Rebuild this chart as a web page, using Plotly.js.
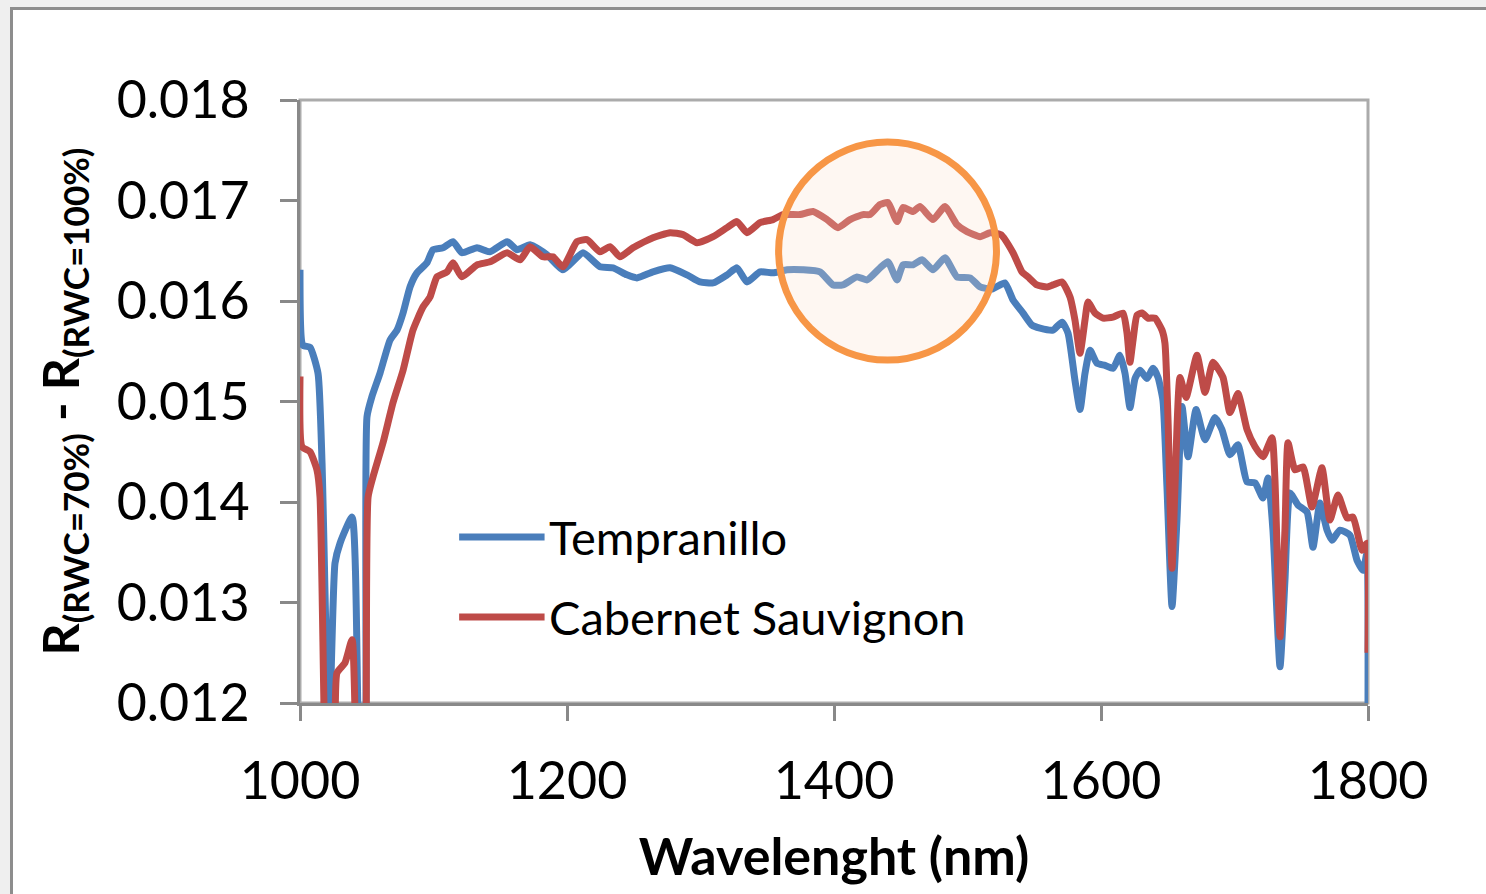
<!DOCTYPE html>
<html>
<head>
<meta charset="utf-8">
<script src="https://cdn.plot.ly/plotly-3.0.1.min.js"></script>
<style>
  html, body { margin: 0; padding: 0; }
  body { width: 1486px; height: 894px; overflow: hidden; position: relative; background: #efefef; }
  #frame { position: absolute; left: 10px; top: 7px; width: 1500px; height: 900px; border-left: 3px solid #8d8d8d; border-top: 3px solid #8d8d8d; background: #ffffff; }
  #chart { position: absolute; left: 0; top: 0; width: 1486px; height: 894px; }
</style>
</head>
<body>
<div id="frame"></div>
<div id="chart"></div>
<script>
// Tempranillo (blue)
var tempWl = [1000,1002.2,1007.5,1013.5,1016.5,1021.7,1026.2,1030,1039,1043.4,1046.4,1049.4,1050.2,1053.9,1059.9,1067.4,1072.7,1077.2,1082.4,1087.6,1095.1,1099.6,1107.1,1114.6,1121.3,1132.6,1142.3,1155.1,1162.5,1172.3,1185,1197,1212,1224.7,1234.5,1244.9,1252.4,1264.4,1277.2,1289.9,1299.6,1309.4,1319.9,1327.3,1334.8,1344.6,1354.3,1364.8,1376.8,1389.5,1399.3,1406.7,1417.2,1424.7,1434.5,1440.4,1447.2,1451.7,1459.2,1465.9,1474.2,1483.1,1492.1,1501.9,1509.4,1518.4,1528,1534.1,1541.6,1548.3,1554.3,1564,1570.8,1575.3,1580.5,1584.3,1588,1591.8,1597,1603,1609,1614.2,1618,1621.7,1625.5,1629.2,1634.5,1639,1642.7,1646.4,1649.4,1653.2,1656.9,1660.7,1665.2,1671.2,1677.9,1685.4,1690.6,1696.6,1702.6,1709.4,1715.4,1721.3,1725.1,1728.8,1734.1,1737.8,1741.6,1747.6,1754.3,1758.8,1764,1769.3,1773,1779,1786.5,1791.8,1796.3,1799.2,1800];
var tempVal = [0.01631,0.01556,0.01554,0.01528,0.01439,0.01163,0.01339,0.01359,0.01385,0.0119,0.0105,0.0118,0.01485,0.01505,0.01528,0.01561,0.01571,0.01588,0.01614,0.01628,0.01638,0.01651,0.01653,0.01659,0.01648,0.01653,0.01649,0.01659,0.01651,0.01656,0.01646,0.01631,0.01648,0.01634,0.01633,0.01626,0.01623,0.01629,0.01633,0.01626,0.01619,0.01618,0.01626,0.01633,0.01619,0.01629,0.01628,0.01631,0.01631,0.01629,0.01616,0.01616,0.01624,0.01621,0.01633,0.01639,0.01621,0.01636,0.01636,0.01641,0.01631,0.01643,0.01624,0.01623,0.01614,0.01612,0.01618,0.01601,0.01588,0.01576,0.01573,0.01571,0.01579,0.01568,0.01521,0.01492,0.01528,0.01551,0.01538,0.01536,0.01533,0.01546,0.01528,0.01494,0.01523,0.01531,0.01523,0.01533,0.01524,0.01501,0.01415,0.01296,0.01382,0.01495,0.01445,0.01492,0.01462,0.01484,0.01472,0.01447,0.01457,0.0142,0.01419,0.01404,0.01424,0.01372,0.01236,0.01322,0.01409,0.01397,0.0139,0.01355,0.01399,0.01372,0.01362,0.01372,0.01367,0.01342,0.01332,0.01349,0.0120];

// Cabernet Sauvignon (red)
var cabWl = [1000,1001.5,1007.5,1012.7,1015,1018.7,1022.5,1026.2,1027.7,1033.7,1039,1042,1046.4,1049.4,1051,1054.7,1062.2,1069.7,1077.2,1084.6,1092.1,1097.4,1102.6,1110.1,1114.6,1121.3,1132.6,1142.3,1155.1,1164.8,1172.3,1182,1189.5,1197,1207.5,1215,1224.7,1232.2,1239.7,1249.4,1264.4,1277.2,1286.9,1297.4,1309.4,1319.9,1327.3,1334.8,1344.6,1354.3,1361.8,1374.5,1384.3,1394.8,1403,1412,1421.7,1427,1434.5,1440.4,1447.2,1451.7,1459.2,1464.4,1474.2,1483.1,1492.1,1499.6,1509.4,1516.9,1525,1534.1,1540.8,1545.3,1552,1559.6,1564,1570.8,1576.8,1580.5,1584.3,1588,1590.3,1595.5,1601.5,1609,1616.5,1619.5,1621.7,1624,1627,1630.7,1635.2,1640.4,1645.7,1647.9,1650.2,1653.2,1655.4,1659.2,1663.7,1671.9,1677.9,1683.9,1691.4,1696.6,1702.6,1709.4,1715.4,1721.3,1728.1,1730.3,1734.1,1737.8,1740.1,1745.3,1751.3,1758,1765.5,1771.5,1777.5,1784.3,1788.8,1795.5,1799.2,1800];
var cabVal = [0.01525,0.01455,0.0145,0.01432,0.01405,0.0115,0.0105,0.0115,0.0123,0.0124,0.01263,0.0115,0.0105,0.0115,0.01405,0.01425,0.01459,0.01499,0.01531,0.01571,0.01594,0.01604,0.01624,0.01629,0.01638,0.01624,0.01636,0.01639,0.01648,0.01641,0.01654,0.01644,0.01644,0.01634,0.01659,0.01661,0.01649,0.01654,0.01644,0.01653,0.01663,0.01668,0.01666,0.01658,0.01664,0.01673,0.01679,0.01668,0.01678,0.01681,0.01686,0.01686,0.01689,0.01681,0.01673,0.01681,0.01686,0.01686,0.01696,0.01698,0.01679,0.01693,0.01689,0.01694,0.01681,0.01694,0.01676,0.01669,0.01664,0.01668,0.01666,0.01648,0.01629,0.01624,0.01616,0.01614,0.01616,0.01619,0.01604,0.01581,0.01548,0.01581,0.01599,0.01588,0.01583,0.01584,0.01588,0.01568,0.01539,0.01561,0.01586,0.01588,0.01583,0.01583,0.01571,0.01558,0.01482,0.01334,0.01415,0.01524,0.01504,0.01546,0.01509,0.01539,0.01524,0.01489,0.01508,0.01472,0.01455,0.01445,0.01464,0.01422,0.01266,0.01372,0.01459,0.01432,0.01435,0.01395,0.01434,0.01382,0.01407,0.01384,0.01385,0.01352,0.01359,0.0125];

var seriesNames = ['Tempranillo', 'Cabernet Sauvignon'];
var xTicks = [1000, 1200, 1400, 1600, 1800];
var yTicks = [0.012, 0.013, 0.014, 0.015, 0.016, 0.017, 0.018];

var blue = '#4a7ebb';
var red = '#be4b48';
var axisGray = '#898989';
var font = 'Lato, "Open Sans", sans-serif';

var traces = [
  { x: tempWl, y: tempVal, name: seriesNames[0], type: 'scatter', mode: 'lines',
    line: { color: blue, width: 7, shape: 'spline', smoothing: 0.5 } },
  { x: cabWl, y: cabVal, name: seriesNames[1], type: 'scatter', mode: 'lines',
    line: { color: red, width: 7, shape: 'spline', smoothing: 0.5 } }
];

var layout = {
  width: 1486, height: 894,
  margin: { l: 300, r: 118, t: 100, b: 191 },
  paper_bgcolor: 'rgba(0,0,0,0)',
  plot_bgcolor: 'rgba(0,0,0,0)',
  showlegend: false,
  font: { family: font, color: '#000' },
  xaxis: {
    range: [1000, 1800], tickvals: xTicks, ticktext: xTicks.map(String),
    ticks: 'outside', ticklen: 15, tickwidth: 3, tickcolor: axisGray,
    showline: true, linecolor: axisGray, linewidth: 3,
    showgrid: false, zeroline: false,
    tickfont: { family: font, size: 52, color: '#000' },
    ticklabelstandoff: 16,
    title: { text: '<b>Wavelenght (nm)</b>', font: { family: font, size: 52, color: '#000' }, standoff: 30 }
  },
  yaxis: {
    range: [0.012, 0.018], tickvals: yTicks, ticktext: yTicks.map(function(v){return v.toFixed(3);}),
    ticks: 'outside', ticklen: 17, tickwidth: 3, tickcolor: axisGray,
    showline: true, linecolor: axisGray, linewidth: 3,
    showgrid: false, zeroline: false,
    tickfont: { family: font, size: 52, color: '#000' },
    ticklabelstandoff: 20,
    title: { text: '<b>R<sub>(RWC=70%)</sub> - R<sub>(RWC=100%)</sub></b>', font: { family: font, size: 50, color: '#000' }, standoff: 22 }
  },
  shapes: [
    { type: 'rect', xref: 'paper', yref: 'paper', x0: 0, x1: 1, y0: 0, y1: 1,
      line: { color: '#ababab', width: 3 }, layer: 'below' },
    { type: 'circle', xref: 'x', yref: 'y', x0: 1358.5, x1: 1521.7, y0: 0.015412, y1: 0.017582,
      line: { color: '#f79646', width: 7 }, fillcolor: 'rgba(250,225,205,0.25)', layer: 'above' },
    { type: 'line', xref: 'paper', yref: 'paper', x0: 0.149, x1: 0.229, y0: 0.2753, y1: 0.2753,
      line: { color: blue, width: 7 } },
    { type: 'line', xref: 'paper', yref: 'paper', x0: 0.149, x1: 0.229, y0: 0.1426, y1: 0.1426,
      line: { color: red, width: 7 } }
  ],
  annotations: [
    { xref: 'paper', yref: 'paper', x: 0.2313, y: 0.2753, xanchor: 'left', yanchor: 'middle',
      text: seriesNames[0], showarrow: false, font: { family: font, size: 47, color: '#000' } },
    { xref: 'paper', yref: 'paper', x: 0.2313, y: 0.1426, xanchor: 'left', yanchor: 'middle',
      text: seriesNames[1], showarrow: false, font: { family: font, size: 47, color: '#000' } }
  ]
};

Plotly.newPlot('chart', traces, layout, { displayModeBar: false, staticPlot: true });
</script>
</body>
</html>
